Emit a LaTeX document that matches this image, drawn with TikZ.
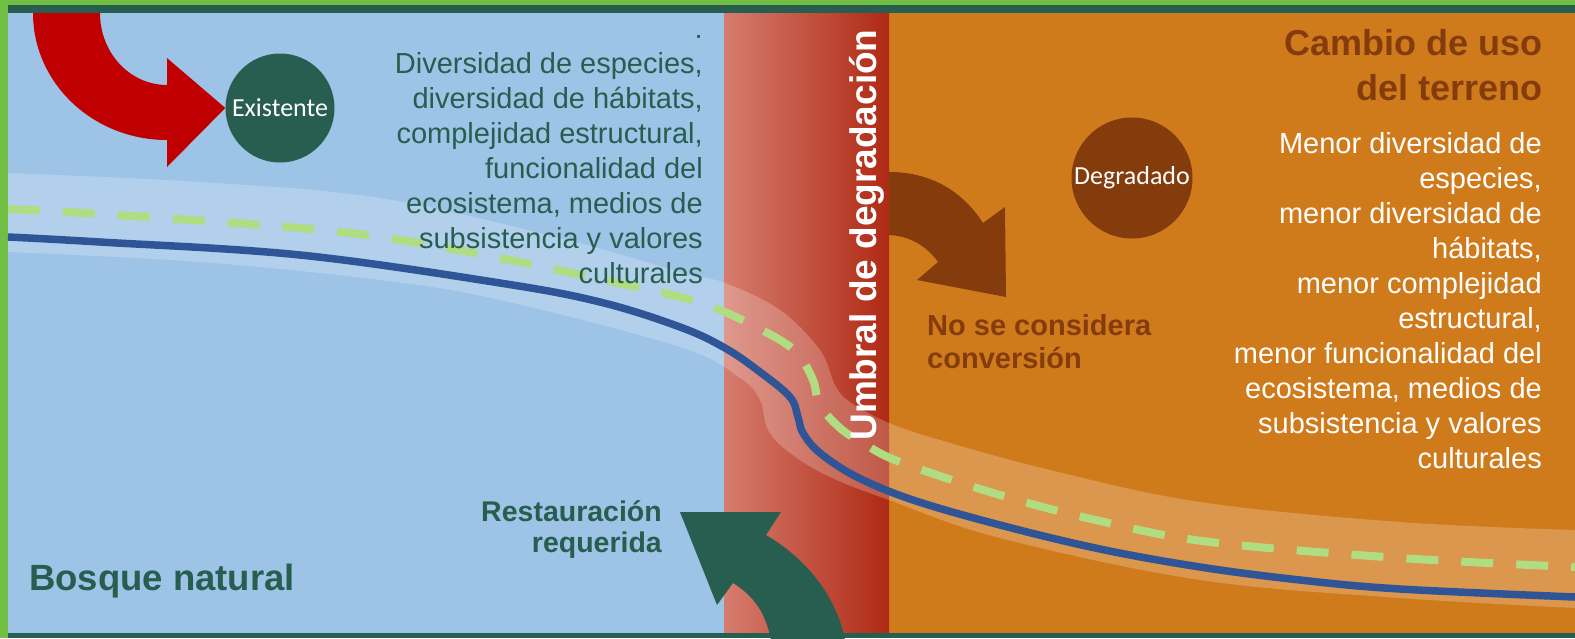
\documentclass[tikz,border=0pt]{standalone}
\usepackage{fontspec}
\setmainfont{Liberation Sans}
\newfontfamily\calibri{Carlito}
\usetikzlibrary{positioning}

\definecolor{forestbg}{RGB}{157,195,230}
\definecolor{landuse}{RGB}{208,123,27}
\definecolor{limeframe}{RGB}{112,190,68}
\definecolor{darkgreen}{RGB}{40,94,79}
\definecolor{rustbrown}{RGB}{132,60,12}
\definecolor{arrowred}{RGB}{192,0,0}
\definecolor{thresholdlight}{RGB}{214,124,110}
\definecolor{thresholddark}{RGB}{175,42,20}
\definecolor{pathblue}{RGB}{47,85,151}
\definecolor{pathgreen}{RGB}{176,220,130}

\begin{document}
\begin{tikzpicture}[x=1pt,y=-1pt,
		stage/.style={circle,inner sep=0pt,text=white,font=\calibri\fontsize{26}{30}\selectfont},
		bodytext/.style={align=right,inner sep=0pt,font=\fontsize{29}{35}\selectfont},
		heading/.style={inner sep=0pt,font=\bfseries\fontsize{29}{33}\selectfont},
		bigheading/.style={inner sep=0pt,font=\bfseries\fontsize{36.5}{45}\selectfont}
	]
	\useasboundingbox (0,0) rectangle (1575,638);
	% Frame and the three zones
	\fill[limeframe] (0,0) rectangle (1575,638);
	\fill[forestbg] (8,13) rectangle (724,633);
	\fill[landuse] (889,13) rectangle (1575,633);
	\shade[left color=thresholdlight,right color=thresholddark] (724,13) rectangle (889,633);

	% Pale band along the trajectories
	\fill[white,fill opacity=0.22] plot[smooth,tension=0.6] coordinates {(8,173) (200,182) (380,198) (560,238) (680,272) (725,283) (780,310) (820,350) (835,385) (850,402) (889,423) (940,440) (1050,470) (1200,502) (1400,522) (1575,530)}
		-- plot[smooth,tension=0.6] coordinates {(1575,608) (1400,598) (1200,580) (1000,538) (889,500) (830,477) (790,453) (768,430) (760,400) (740,378) (680,347) (500,300) (380,280) (200,262) (8,252)} -- cycle;
	\draw[pathgreen,line width=8pt,dash pattern=on 32pt off 23pt] plot[smooth,tension=0.6] coordinates {(8,209) (100,214) (300,228) (400,240) (500,258) (600,279) (680,297) (727,313) (780,340) (800,357) (813,380) (820,405) (840,428) (863,443) (900,462) (1000,495) (1100,521) (1210,542) (1400,558) (1575,567)};
	\draw[pathblue,line width=7.5pt] plot[smooth,tension=0.6] coordinates {(8,237) (100,242) (300,255) (500,283) (600,302) (680,327) (725,348) (760,372) (790,397) (798,417) (803,433) (820,453) (857,477) (913,500) (1000,525) (1100,549) (1200,567) (1300,580) (1400,589) (1575,597)};

	% States
	\node[stage,fill=darkgreen,minimum size=109] (existente) at (280,108) {Existente};
	\node[stage,fill=rustbrown,minimum size=121] (degradado) at (1132,178) {Degradado};

	% Block arrows
	\fill[arrowred] (33,13) .. controls (33,83) and (93,140) .. (167,140) -- (167,167) -- (existente.west) -- (167,58) -- (167,85) .. controls (130,85) and (100,53) .. (100,13) -- cycle;
	\fill[rustbrown] (889,172) .. controls (935,172) and (965,195) .. (983,223) -- (1005,207) -- (1006,297) -- (917,280) -- (938,262) .. controls (928,248) and (912,236) .. (889,235) -- cycle;
	\fill[darkgreen] (771,640) .. controls (765,610) and (752,595) .. (733,583) -- (717,605) -- (680,512) -- (781,512) -- (766,535) .. controls (800,555) and (835,590) .. (845,640) -- cycle;

	% Texts (anchored on the baseline of their last line)
	\node[bodytext,text=darkgreen,anchor=base east] (forestlist) at (703,283) {.\\Diversidad de especies,\\diversidad de hábitats,\\complejidad estructural,\\funcionalidad del\\ecosistema, medios de\\subsistencia y valores\\culturales};
	\node[bodytext,text=white,anchor=base east] (degradedlist) at (1542,468) {Menor diversidad de\\especies,\\menor diversidad de\\hábitats,\\menor complejidad\\estructural,\\menor funcionalidad del\\ecosistema, medios de\\subsistencia y valores\\culturales};
	\node[bigheading,text=rustbrown,align=right,anchor=base east,font=\bfseries\fontsize{36}{45}\selectfont] (landusetitle) at (1543,100) {Cambio de uso\\del terreno};
	\node[heading,text=rustbrown,align=left,anchor=base west] (noconversion) at (927,368) {No se considera\\conversión};
	\node[heading,text=darkgreen,align=right,anchor=base east,font=\bfseries\fontsize{28.5}{31}\selectfont] (restoration) at (662,552) {Restauración\\requerida};
	\node[bigheading,text=darkgreen,anchor=base west] (forest) at (29,590) {Bosque natural};
	\node[bigheading,text=white,rotate=90,anchor=base,font=\bfseries\fontsize{37}{45}\selectfont] (threshold) at (876,235) {Umbral de degradación};

	% Top and bottom rules
	\fill[darkgreen] (8,4.5) rectangle (1575,13);
	\fill[darkgreen] (8,633) rectangle (1575,638);
\end{tikzpicture}
\end{document}
